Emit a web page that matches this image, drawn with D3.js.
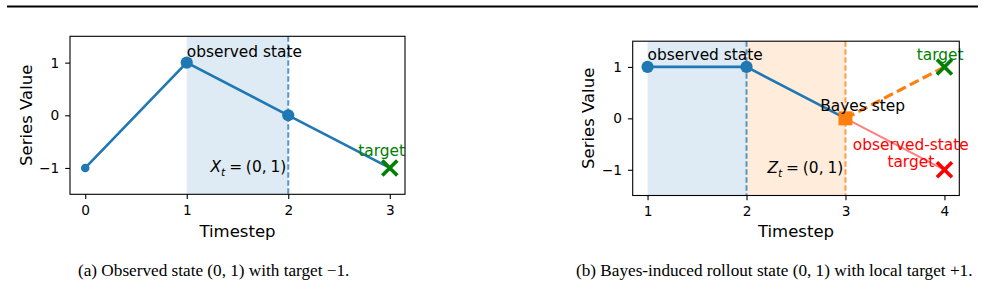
<!DOCTYPE html>
<html>
<head>
<meta charset="utf-8">
<script src="https://cdn.jsdelivr.net/npm/d3@7"></script>
<style>
  body { margin: 0; background: #fff; }
  svg text { font-family: "DejaVu Sans", sans-serif; }
</style>
</head>
<body>
<div id="chart"></div>
<script>
// panel (a): observed series
var stepsA = [0, 1, 2, 3];
var valuesA = [-1, 1, 0, -1];
var stateA = [1, 2];            // observed window X_t
var targetA = [3, -1];

// panel (b): Bayes-induced rollout
var stepsB = [1, 2, 3];
var valuesB = [1, 1, 0];
var observedB = [1, 2];
var rolloutB = [2, 3];
var bayesStep = [3, 0];
var localTarget = [4, 1];
var observedTarget = [4, -1];

var xTicksA = [0, 1, 2, 3];
var xTicksB = [1, 2, 3, 4];
var yTicks = [-1, 0, 1];

var captionA = "(a) Observed state (0, 1) with target \u22121.";
var captionB = "(b) Bayes-induced rollout state (0, 1) with local target +1.";

var C0 = "#1f77b4", C1 = "#ff7f0e", GREEN = "#008000", RED = "#ff0000";

var svg = d3.select("#chart").append("svg")
  .attr("width", 985)
  .attr("height", 305);

// top rule of the page
svg.append("line")
  .attr("x1", 7).attr("x2", 978)
  .attr("y1", 6.5).attr("y2", 6.5)
  .attr("stroke", "#000").attr("stroke-width", 2);

function fmt(d) {
  return d < 0 ? "\u2212" + Math.abs(d) : String(d);
}

function panel(box, xDomain, xTicks) {
  var x = d3.scaleLinear().domain(xDomain).range([box.left, box.right]);
  var y = d3.scaleLinear().domain([-1.5, 1.5]).range([box.bottom, box.top]);
  var g = svg.append("g");
  var clip = "clip" + Math.round(box.left);
  svg.append("clipPath").attr("id", clip).append("rect")
    .attr("x", box.left).attr("y", box.top)
    .attr("width", box.right - box.left).attr("height", box.bottom - box.top);
  var plot = g.append("g").attr("clip-path", "url(#" + clip + ")");

  var xa = g.append("g")
    .attr("transform", "translate(0," + box.bottom + ")")
    .call(d3.axisBottom(x).tickValues(xTicks).tickFormat(fmt).tickSize(4.8).tickPadding(6));
  var ya = g.append("g")
    .attr("transform", "translate(" + box.left + ",0)")
    .call(d3.axisLeft(y).tickValues(yTicks).tickFormat(fmt).tickSize(4.8).tickPadding(6));
  [xa, ya].forEach(function (a) {
    a.select(".domain").remove();
    a.selectAll("line").attr("stroke", "#000").attr("stroke-width", 1.1);
    a.selectAll("text").attr("fill", "#000").style("font-size", "13.7px")
      .style("font-family", "DejaVu Sans");
  });

  g.append("text")
    .attr("x", (box.left + box.right) / 2).attr("y", 236.5)
    .attr("text-anchor", "middle").style("font-size", "16.5px")
    .text("Timestep");
  g.append("text")
    .attr("transform", "translate(" + (box.left - 38.5) + "," + ((box.top + box.bottom) / 2) + ") rotate(-90)")
    .attr("text-anchor", "middle").style("font-size", "16.5px")
    .text("Series Value");

  return { x: x, y: y, g: g, plot: plot, box: box };
}

function shade(p, span, color) {
  p.plot.append("rect")
    .attr("x", p.x(span[0])).attr("width", p.x(span[1]) - p.x(span[0]))
    .attr("y", p.box.top).attr("height", p.box.bottom - p.box.top)
    .attr("fill", color).attr("fill-opacity", 0.15);
}

function vdash(p, at, color) {
  p.plot.append("line")
    .attr("x1", p.x(at)).attr("x2", p.x(at))
    .attr("y1", p.box.top).attr("y2", p.box.bottom)
    .attr("stroke", color).attr("stroke-opacity", 0.75)
    .attr("stroke-width", 2).attr("stroke-dasharray", "5.5,2.5");
}

function cross(p, pt, color) {
  var cx = p.x(pt[0]), cy = p.y(pt[1]), s = 7.5;
  p.g.append("path")
    .attr("d", "M" + (cx - s) + "," + (cy - s) + "L" + (cx + s) + "," + (cy + s) +
      "M" + (cx - s) + "," + (cy + s) + "L" + (cx + s) + "," + (cy - s))
    .attr("stroke", color).attr("stroke-width", 3.6).attr("fill", "none");
}

function label(p, xv, yv, txt, anchor, color) {
  return p.g.append("text")
    .attr("x", p.x(xv)).attr("y", p.y(yv))
    .attr("text-anchor", anchor || "start")
    .attr("fill", color || "#000")
    .style("font-size", "15.4px")
    .text(txt);
}

function mathLabel(p, xv, yv, sym) {
  var t = p.g.append("text")
    .attr("x", p.x(xv)).attr("y", p.y(yv))
    .attr("text-anchor", "end")
    .style("font-size", "15.4px");
  t.append("tspan").style("font-style", "italic").text(sym);
  t.append("tspan").style("font-style", "italic").style("font-size", "10.8px")
    .attr("dy", 3.5).text("t");
  t.append("tspan").attr("dy", -3.5).text("\u2005=\u2005(0,\u20051)");
}

var line = function (p) {
  return d3.line().x(function (d) { return p.x(d[0]); }).y(function (d) { return p.y(d[1]); });
};

// ---------- panel (a)
var pa = panel({ left: 70, right: 405, top: 36.3, bottom: 194.3 }, [-0.15, 3.15], xTicksA);
shade(pa, stateA, C0);
vdash(pa, stateA[1], C0);
var ptsA = stepsA.map(function (s, i) { return [s, valuesA[i]]; });
pa.g.append("path").datum(ptsA)
  .attr("d", line(pa)).attr("fill", "none")
  .attr("stroke", C0).attr("stroke-width", 2.6);
pa.g.selectAll("circle.pt").data(ptsA.slice(0, 3)).enter().append("circle")
  .attr("cx", function (d) { return pa.x(d[0]); })
  .attr("cy", function (d) { return pa.y(d[1]); })
  .attr("r", function (d) { return stateA.indexOf(d[0]) >= 0 ? 6.1 : 4.3; })
  .attr("fill", C0);
cross(pa, targetA, GREEN);
label(pa, 1, 1.1, "observed state");
mathLabel(pa, 1.98, -1.08, "X");
label(pa, 2.92, -0.77, "target", "middle", GREEN);

// ---------- panel (b)
var pb = panel({ left: 632.7, right: 959.3, top: 41.2, bottom: 195.5 }, [0.85, 4.15], xTicksB);
shade(pb, observedB, C0);
shade(pb, rolloutB, C1);
vdash(pb, observedB[1], C0);
vdash(pb, rolloutB[1], C1);
var ptsB = stepsB.map(function (s, i) { return [s, valuesB[i]]; });
pb.g.append("path").datum([bayesStep, observedTarget])
  .attr("d", line(pb)).attr("fill", "none")
  .attr("stroke", RED).attr("stroke-opacity", 0.5).attr("stroke-width", 2);
pb.g.append("path").datum([bayesStep, localTarget])
  .attr("d", line(pb)).attr("fill", "none")
  .attr("stroke", C1).attr("stroke-width", 3.2).attr("stroke-dasharray", "10,4.5");
pb.g.append("path").datum(ptsB)
  .attr("d", line(pb)).attr("fill", "none")
  .attr("stroke", C0).attr("stroke-width", 2.6);
pb.g.selectAll("circle.pt").data(ptsB.slice(0, 2)).enter().append("circle")
  .attr("cx", function (d) { return pb.x(d[0]); })
  .attr("cy", function (d) { return pb.y(d[1]); })
  .attr("r", 6.1).attr("fill", C0);
pb.g.append("rect")
  .attr("x", pb.x(bayesStep[0]) - 7).attr("y", pb.y(bayesStep[1]) - 7)
  .attr("width", 14).attr("height", 14).attr("fill", C1);
cross(pb, localTarget, GREEN);
cross(pb, observedTarget, RED);
label(pb, 1, 1.13, "observed state");
label(pb, 2.745, 0.15, "Bayes step");
label(pb, 3.956, 1.14, "target", "middle", GREEN);
label(pb, 3.66, -0.61, "observed-state", "middle", RED);
label(pb, 3.66, -0.94, "target", "middle", RED);
mathLabel(pb, 2.977, -1.07, "Z");

// frames on top
[pa, pb].forEach(function (p) {
  p.g.append("rect")
    .attr("x", p.box.left).attr("y", p.box.top)
    .attr("width", p.box.right - p.box.left).attr("height", p.box.bottom - p.box.top)
    .attr("fill", "none").attr("stroke", "#000").attr("stroke-width", 1.1);
});

// captions
[[78, captionA], [576, captionB]].forEach(function (c) {
  svg.append("text")
    .attr("x", c[0]).attr("y", 276)
    .style("font-family", "Liberation Serif, serif")
    .style("font-size", "17.2px")
    .attr("fill", "#000")
    .text(c[1]);
});
</script>
</body>
</html>
